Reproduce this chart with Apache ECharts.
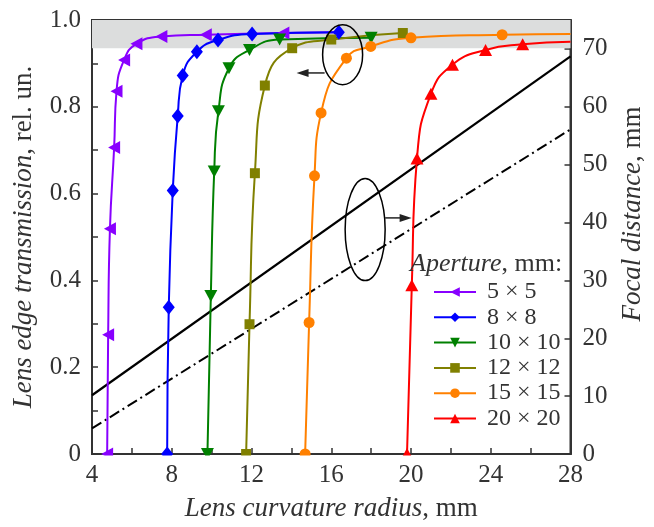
<!DOCTYPE html>
<html>
<head>
<meta charset="utf-8">
<script src="https://cdn.jsdelivr.net/npm/echarts@6/dist/echarts.min.js"></script>
<style>
  html, body { margin: 0; background: #fff; }
  #main { width: 654px; height: 527px; }
</style>
</head>
<body>
<div id="main"></div>
<script>
// aperture curves: lens curvature radius (mm) vs edge transmission
const names = ['5 × 5', '8 × 8', '10 × 10', '12 × 12', '15 × 15', '20 × 20'];
const colors = ['#8800ff', '#0000ff', '#008000', '#808000', '#ff8000', '#ff0000'];
const symbols = ['triangle', 'diamond', 'triangle', 'rect', 'circle', 'triangle'];
const rotates = [90, 0, 180, 0, 0, 0];
const sizes = [[13, 12], [12, 15], [13, 12], 10, 11, [13, 12]];

const x5 = [4.76, 4.81, 4.90, 5.11, 5.23, 5.61, 6.23, 7.48, 9.71, 13.6];
const y5 = [0, 0.275, 0.519, 0.706, 0.836, 0.908, 0.945, 0.962, 0.966, 0.970];
const x8 = [7.77, 7.85, 8.05, 8.30, 8.55, 9.26, 10.32, 12.03, 16.38];
const y8 = [0, 0.338, 0.607, 0.779, 0.872, 0.927, 0.954, 0.968, 0.972];
const x10 = [9.79, 9.96, 10.13, 10.34, 10.87, 11.90, 13.41, 18.0];
const y10 = [0, 0.364, 0.651, 0.790, 0.889, 0.931, 0.955, 0.959];
const x12 = [11.73, 11.90, 12.17, 12.67, 14.04, 16.0, 19.59];
const y12 = [0, 0.299, 0.647, 0.849, 0.935, 0.955, 0.970];
const x15 = [14.69, 14.89, 15.16, 15.49, 16.76, 17.98, 20.0, 24.57];
const y15 = [0, 0.303, 0.641, 0.786, 0.912, 0.939, 0.959, 0.966];
const x20 = [19.80, 20.04, 20.30, 21.0, 22.08, 23.74, 25.6];
const y20 = [0, 0.389, 0.681, 0.830, 0.897, 0.931, 0.944];
// line continues past the last marker (no symbol there)
const tails = [[16.2, 0.972], null, null, null, [28, 0.968], [28, 0.950]];

// focal distance (right axis)
const focalX = [4, 28];
const focalSolid = [10.15, 68.7];
const focalDashDot = [4.42, 56.1];

const xs = [x5, x8, x10, x12, x15, x20];
const ys = [y5, y8, y10, y12, y15, y20];

const FONT = 'Liberation Serif';
const TXT = '#333';
const italic = size => ({ i: { fontFamily: FONT, fontSize: size, fontStyle: 'italic', color: TXT } });

const chart = echarts.init(document.getElementById('main'));

const curveSeries = names.map((name, i) => {
  const data = xs[i].map((x, j) => [x, ys[i][j]]);
  if (tails[i]) data.push({ value: tails[i], symbol: 'none' });
  return {
    name: name,
    type: 'line',
    z: 3,
    data: data,
    smooth: 0.5,
    symbol: symbols[i],
    symbolSize: sizes[i],
    symbolRotate: rotates[i],
    showAllSymbol: true,
    clip: false,
    color: colors[i],
    lineStyle: { width: 2, color: colors[i] },
    itemStyle: { color: colors[i] }
  };
});

const option = {
  animation: false,
  backgroundColor: '#fff',
  grid: {
    left: 92, right: 80, top: 20, bottom: 70,
    show: true, borderColor: '#333', borderWidth: 2
  },
  title: {
    text: '{i|Aperture}, mm:',
    left: 410, top: 251, padding: 0,
    textStyle: {
      fontFamily: FONT, fontSize: 26, fontWeight: 'normal', color: TXT,
      rich: italic(26)
    }
  },
  legend: {
    orient: 'vertical',
    left: 433, top: 280,
    padding: 0,
    itemWidth: 42, itemHeight: 12, itemGap: 1.3,
    formatter: n => ' ' + n,
    textStyle: { fontFamily: FONT, fontSize: 24, color: TXT, lineHeight: 24 },
    data: names
  },
  xAxis: {
    type: 'value',
    min: 4, max: 28, interval: 2,
    name: '{i|Lens curvature radius}, mm',
    nameLocation: 'middle', nameGap: 41,
    nameTextStyle: { fontFamily: FONT, fontSize: 27, color: TXT, rich: italic(27) },
    axisLine: { lineStyle: { color: '#333', width: 2 } },
    axisTick: { inside: true, length: 6, lineStyle: { width: 1.5, color: '#333' } },
    axisLabel: {
      fontFamily: FONT, fontSize: 25, color: TXT, margin: 9,
      formatter: v => (v % 4 === 0 ? String(v) : '')
    },
    splitLine: { show: false }
  },
  yAxis: [{
    type: 'value',
    min: 0, max: 1, interval: 0.1,
    name: '{i|Lens edge transmission}, rel. un.',
    nameLocation: 'middle', nameGap: 54.5, nameRotate: 90,
    nameTextStyle: { fontFamily: FONT, fontSize: 27, color: TXT, rich: italic(27) },
    axisLine: { lineStyle: { color: '#333', width: 2 } },
    axisTick: { inside: true, length: 6, lineStyle: { width: 1.5, color: '#333' } },
    axisLabel: {
      fontFamily: FONT, fontSize: 25, color: TXT, margin: 11,
      formatter: v => {
        const k = Math.round(v * 10);
        if (k % 2) return '';
        return k === 0 ? '0' : (k / 10).toFixed(1);
      }
    },
    splitLine: { show: false }
  }, {
    type: 'value',
    position: 'right',
    min: 0, max: 75, interval: 10,
    name: '{i|Focal distance}, mm',
    nameLocation: 'middle', nameGap: 48.5, nameRotate: 90,
    nameTextStyle: {
      fontFamily: FONT, fontSize: 27, color: TXT, rich: italic(27),
      padding: [0, 0, 0, 46]
    },
    axisLine: { lineStyle: { color: '#333', width: 2 } },
    axisTick: { inside: true, length: 6, lineStyle: { width: 1.5, color: '#333' } },
    axisLabel: {
      fontFamily: FONT, fontSize: 25, color: TXT, margin: 12,
      formatter: v => (v > 70 ? '' : String(v))
    },
    splitLine: { show: false }
  }],
  series: [{
    // grey band at the top of the plot
    type: 'line', data: [], z: 1, silent: true,
    markArea: {
      silent: true,
      itemStyle: { color: '#dcdddd' },
      data: [[{ yAxis: 0.935 }, { yAxis: 1 }]]
    }
  }, {
    type: 'line', yAxisIndex: 1, z: 2, symbol: 'none',
    data: focalX.map((x, i) => [x, focalSolid[i]]),
    lineStyle: { color: '#000', width: 2.2 }
  }, {
    type: 'line', yAxisIndex: 1, z: 2, symbol: 'none',
    data: focalX.map((x, i) => [x, focalDashDot[i]]),
    lineStyle: { color: '#000', width: 2, type: [11, 4, 2, 4] }
  }].concat(curveSeries)
};

chart.setOption(option);

// annotations: ellipses with arrows pointing to the axis each group belongs to
const px = p => chart.convertToPixel({ gridIndex: 0 }, p);
const c1 = px([16.57, 0.920]);
const c2 = px([17.70, 0.517]);
const a1 = px([14.26, 0.878]);
const a2 = px([20.03, 0.544]);
const box = px([4, 0]);
const boxR = px([28, 0]);
const ink = '#222';

chart.setOption({
  graphic: [
    { type: 'ellipse', z: 50, shape: { cx: c1[0], cy: c1[1], rx: 20, ry: 30 },
      style: { fill: 'none', stroke: '#000', lineWidth: 1.5 } },
    { type: 'line', z: 50, shape: { x1: a1[0] + 8, y1: a1[1], x2: c1[0] - 18, y2: a1[1] },
      style: { stroke: ink, lineWidth: 1.5 } },
    { type: 'polygon', z: 50, shape: { points: [[a1[0], a1[1]], [a1[0] + 12, a1[1] - 4], [a1[0] + 12, a1[1] + 4]] },
      style: { fill: ink } },
    { type: 'ellipse', z: 50, shape: { cx: c2[0], cy: c2[1], rx: 20, ry: 51 },
      style: { fill: 'none', stroke: '#000', lineWidth: 1.5 } },
    { type: 'line', z: 50, shape: { x1: c2[0] + 20, y1: a2[1], x2: a2[0] - 8, y2: a2[1] },
      style: { stroke: ink, lineWidth: 1.5 } },
    { type: 'polygon', z: 50, shape: { points: [[a2[0], a2[1]], [a2[0] - 12, a2[1] - 4], [a2[0] - 12, a2[1] + 4]] },
      style: { fill: ink } },
    // hide the lower half of the markers sitting on the x axis
    { type: 'rect', z: 40, shape: { x: box[0] + 2, y: box[1] + 1.5, width: boxR[0] - box[0] - 4, height: 7 },
      style: { fill: '#fff' } }
  ]
});
</script>
</body>
</html>
